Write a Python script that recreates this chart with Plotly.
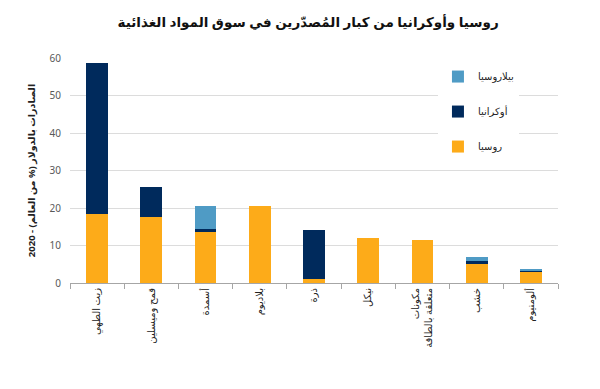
import plotly.graph_objects as go

categories = ["زيت الطهي", "قمح وميسلين", "أسمدة", "بلاديوم", "ذرة", "نيكل",
              "مكونات<br>متعلقة بالطاقة", "خشب", "ألومنيوم"]
russia = [18.3, 17.5, 13.7, 20.5, 1.0, 12.0, 11.6, 5.0, 3.0]
ukraine = [40.3, 8.0, 0.8, 0, 13.1, 0, 0, 0.9, 0.3]
belarus = [0, 0, 6.0, 0, 0, 0, 0, 1.0, 0.2]
yticks = [0, 10, 20, 30, 40, 50, 60]

font_fam = "Noto Sans, DejaVu Sans, sans-serif"

fig = go.Figure()
fig.add_bar(x=categories, y=russia, name="روسيا", marker_color="#FDAB19",
            marker_line_width=0, legendgroup="r", legendrank=3)
fig.add_bar(x=categories, y=ukraine, name="أوكرانيا", marker_color="#002A5C",
            marker_line_width=0, legendgroup="u", legendrank=2)
fig.add_bar(x=categories, y=belarus, name="بيلاروسيا", marker_color="#4F9BC5",
            marker_line_width=0, legendgroup="b", legendrank=1)

fig.update_layout(
    barmode="stack",
    bargap=0.6,
    width=592, height=381,
    margin=dict(l=62, r=42, t=50, b=106),
    paper_bgcolor="white", plot_bgcolor="white",
    font=dict(family=font_fam, size=10, color="#222"),
    title=dict(text="<b>روسيا وأوكرانيا من كبار المُصدّرين في سوق المواد الغذائية</b>",
               x=0.507, xanchor="center", y=0.963, yanchor="middle",
               font=dict(size=13.5, color="#111", family=font_fam)),
    legend=dict(x=0.754, y=0.982, xanchor="left", yanchor="top",
                bgcolor="white", traceorder="grouped",
                tracegroupgap=16, font=dict(size=10, color="#222")),
    xaxis=dict(showline=True, linecolor="#a6a6a6", ticks="outside",
               tickson="boundaries", ticklen=5, tickcolor="#a6a6a6",
               tickangle=-90, tickfont=dict(size=10, color="#222")),
    yaxis=dict(range=[0, 60], tickvals=yticks, showgrid=True,
               gridcolor="#dcdcdc", zeroline=False, showline=False,
               ticklabelstandoff=8,
               tickfont=dict(size=10, color="#595959"),
               title=dict(text="<b>الصادرات بالدولار (% من العالم) - 2020</b>",
                          font=dict(size=9.5, color="#222"), standoff=12)),
)

fig.write_html("out.html")
